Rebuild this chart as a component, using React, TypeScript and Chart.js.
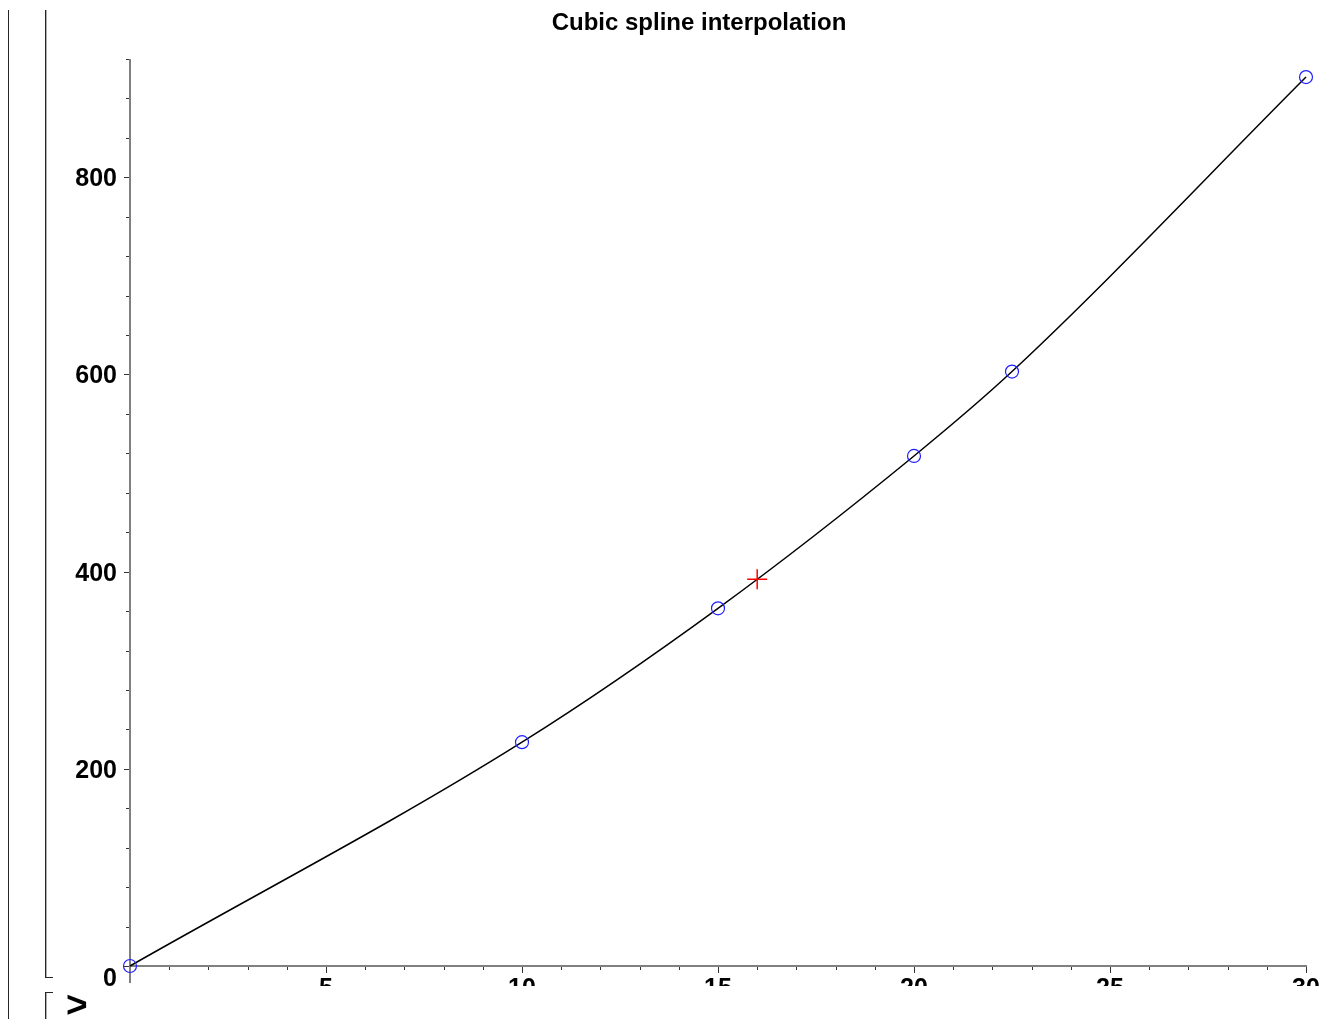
import React, { useEffect, useRef } from "react";
import { Chart, registerables } from "chart.js";

Chart.register(...registerables);

// Data (time, velocity) and the interpolated query point
const times = [0, 10, 15, 20, 22.5, 30];
const velocities = [0, 227.04, 362.78, 517.35, 602.97, 901.67];
const queryTime = [16];
const queryValue = [392.19];

// Axis ticks
const xMajorTicks = [5, 10, 15, 20, 25, 30];
const xMinorTicks = [0, 1, 2, 3, 4, 5, 6, 7, 8, 9, 10, 11, 12, 13, 14, 15, 16, 17, 18, 19, 20, 21, 22, 23, 24, 25, 26, 27, 28, 29, 30];
const yMajorTicks = [0, 200, 400, 600, 800];
const yMinorTicks = [0, 40, 80, 120, 160, 200, 240, 280, 320, 360, 400, 440, 480, 520, 560, 600, 640, 680, 720, 760, 800, 840, 880, 920];
const xRange = [0, 30];
const yRange = [0, 920];
const titleText = "Cubic spline interpolation";

const FONT = '"Liberation Sans", Arial, Helvetica, sans-serif';

const mapleAxes = {
  id: "mapleAxes",
  beforeDatasetsDraw(chart: any) {
    const { ctx, scales } = chart;
    const x = scales.x;
    const y = scales.y;
    const x0 = x.getPixelForValue(xRange[0]);
    const y0 = y.getPixelForValue(yRange[0]);
    const line = (a: number, b: number, c: number, d: number) => {
      ctx.beginPath();
      ctx.moveTo(a, b);
      ctx.lineTo(c, d);
      ctx.stroke();
    };
    ctx.save();
    // ticks
    ctx.strokeStyle = "#333";
    ctx.lineWidth = 1;
    xMinorTicks.forEach((v) => {
      const px = Math.round(x.getPixelForValue(v)) + 0.5;
      const len = xMajorTicks.includes(v) ? 7 : 4;
      line(px, y0, px, y0 + len);
    });
    yMinorTicks.forEach((v) => {
      const py = Math.round(y.getPixelForValue(v)) + 0.5;
      const len = yMajorTicks.includes(v) ? 6 : 4;
      line(x0 - len, py, x0, py);
    });
    // axis lines
    ctx.strokeStyle = "#808080";
    ctx.lineWidth = 2;
    line(x0, y.getPixelForValue(yRange[1]), x0, y0 + 17);
    line(x0, y0, x.getPixelForValue(xRange[1]) + 1, y0);

    // tick labels
    ctx.fillStyle = "#000";
    ctx.font = `bold 25px ${FONT}`;
    ctx.textBaseline = "alphabetic";
    ctx.textAlign = "right";
    yMajorTicks.forEach((v) => {
      const py = y.getPixelForValue(v);
      const shift = v === 0 ? 11 : 0;
      ctx.fillText(String(v), x0 - 13, py + 9 + shift);
    });
    ctx.textAlign = "center";
    xMajorTicks.forEach((v) => {
      const px = x.getPixelForValue(v);
      ctx.fillText(String(v), px, y0 + 30);
    });

    // title
    ctx.font = `bold 24px ${FONT}`;
    ctx.textAlign = "center";
    ctx.fillText(titleText, 699, 30);
    ctx.restore();
  },
};

export default function App() {
  const ref = useRef<HTMLCanvasElement | null>(null);
  useEffect(() => {
    if (!ref.current) return;
    const curve = times.map((t, i) => ({ x: t, y: velocities[i] }));
    const query = queryTime.map((t, i) => ({ x: t, y: queryValue[i] }));
    const chart = new Chart(ref.current, {
      type: "scatter",
      data: {
        datasets: [
          {
            data: query,
            pointStyle: "cross",
            pointRadius: 10,
            borderColor: "#ff0000",
            borderWidth: 1.5,
            backgroundColor: "#ff0000",
            clip: false,
            order: 0,
          } as any,
          {
            data: curve,
            pointStyle: "circle",
            pointRadius: 6.5,
            borderColor: "#2020ff",
            borderWidth: 1.2,
            backgroundColor: "rgba(0,0,0,0)",
            clip: false,
            order: 1,
          } as any,
          {
            data: curve,
            showLine: true,
            pointRadius: 0,
            borderColor: "#000",
            borderWidth: 1.5,
            cubicInterpolationMode: "monotone",
            clip: false,
            order: 2,
          } as any,
        ],
      },
      options: {
        animation: false,
        responsive: false,
        maintainAspectRatio: false,
        layout: { padding: { left: 130, right: 26, top: 59, bottom: 20 } },
        scales: {
          x: { type: "linear", min: xRange[0], max: xRange[1], display: false },
          y: { type: "linear", min: yRange[0], max: yRange[1], display: false },
        },
        plugins: {
          legend: { display: false },
          tooltip: { enabled: false },
          title: { display: false },
        },
        events: [],
      },
      plugins: [mapleAxes],
    });
    return () => chart.destroy();
  }, []);

  const dark = "#262626";
  return (
    <div style={{ position: "absolute", left: 0, top: 0, width: 1332, height: 1019, overflow: "hidden", background: "#fff" }}>
      <canvas ref={ref} width={1332} height={986} style={{ position: "absolute", left: 0, top: 0, width: 1332, height: 986 }} />
      <div style={{ position: "absolute", left: 8, top: 10, width: 1, height: 1009, background: dark }} />
      <div style={{ position: "absolute", left: 45, top: 10, width: 1, height: 968, background: dark }} />
      <div style={{ position: "absolute", left: 46, top: 10, width: 1, height: 968, background: "#b0b0b0" }} />
      <div style={{ position: "absolute", left: 45, top: 977, width: 8, height: 1, background: dark }} />
      <div style={{ position: "absolute", left: 45, top: 992, width: 1, height: 27, background: dark }} />
      <div style={{ position: "absolute", left: 46, top: 993, width: 1, height: 26, background: "#b0b0b0" }} />
      <div style={{ position: "absolute", left: 45, top: 992, width: 8, height: 1, background: dark }} />
      <span
        style={{
          position: "absolute",
          left: 66,
          top: 986,
          fontFamily: FONT,
          fontWeight: "bold",
          fontSize: 37,
          lineHeight: "37px",
          color: "#000",
        }}
      >
        &gt;
      </span>
    </div>
  );
}
